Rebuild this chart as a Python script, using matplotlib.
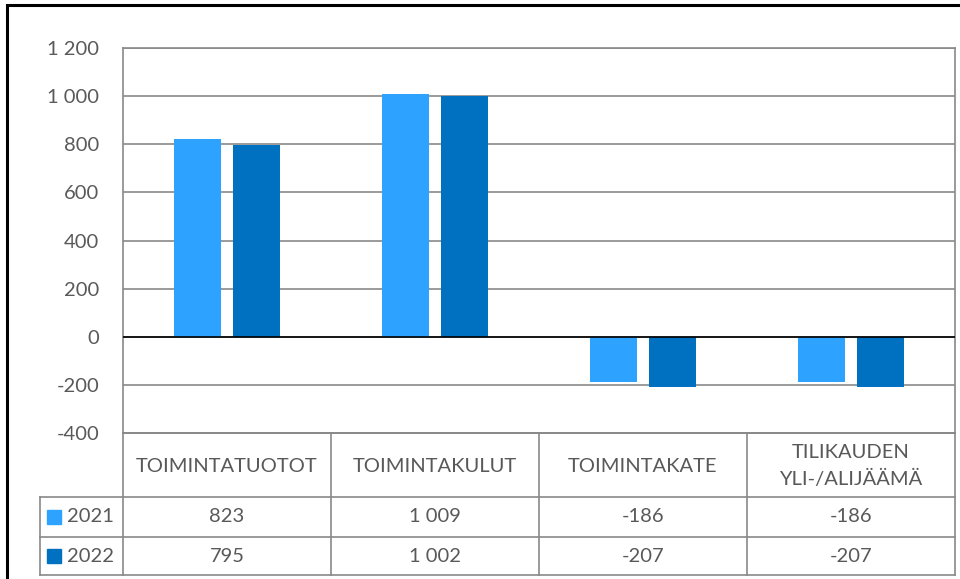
import numpy as np
import matplotlib.pyplot as plt
from matplotlib.patches import Rectangle

categories = ["TOIMINTATUOTOT", "TOIMINTAKULUT", "TOIMINTAKATE", "TILIKAUDEN\nYLI-/ALIJÄÄMÄ"]
series_names = ["2021", "2022"]
values_2021 = [823, 1009, -186, -186]
values_2022 = [795, 1002, -207, -207]
yticks = [-400, -200, 0, 200, 400, 600, 800, 1000, 1200]
colors = ["#2EA2FF", "#0070C0"]

plt.rcParams['font.family'] = ['Lato', 'DejaVu Sans']
txt_col = "#595959"
grid_col = "#898989"
fs = 14.5

def fmt(v):
    # finnish style thousand separator (space)
    return "{:,}".format(v).replace(",", " ")

W, H = 960, 579
fig = plt.figure(figsize=(9.6, 5.79), dpi=100)

# pixel layout
px_left, px_right = 123, 955
px_top, px_zero_bottom = 48, 433
px_table_bottom = 575

ax = fig.add_axes([px_left / W, 1 - px_zero_bottom / H,
                   (px_right - px_left) / W, (px_zero_bottom - px_top) / H])
x = np.arange(len(categories))
bw = 0.226
off = 0.144
ax.bar(x - off, values_2021, bw, color=colors[0], zorder=3)
ax.bar(x + off, values_2022, bw, color=colors[1], zorder=3)
ax.set_xlim(-0.5, len(categories) - 0.5)
ax.set_ylim(-400, 1200)
ax.set_yticks(yticks)
ax.set_yticklabels([fmt(t) for t in yticks], color=txt_col, fontsize=fs)
ax.tick_params(axis='y', length=0, pad=17)
ax.set_xticks([])
for t in yticks:
    ax.axhline(t, color=grid_col, lw=1.2, zorder=1)
ax.axhline(0, color="black", lw=1.2, zorder=4)
for s in ["left", "right", "top", "bottom"]:
    ax.spines[s].set_color(grid_col)
    ax.spines[s].set_linewidth(1.2)

# data table below
tax = fig.add_axes([px_left / W, 1 - px_table_bottom / H,
                    (px_right - px_left) / W, (px_table_bottom - px_zero_bottom) / H])
tax.set_xlim(-0.5, len(categories) - 0.5)
rows = [0, 64, 104, 142]
tax.set_ylim(rows[-1], rows[0])
tax.axis("off")
leg_left = -0.5 - 83 / 208.0
lk = dict(color=grid_col, lw=1.2, clip_on=False)
# horizontal lines
tax.plot([-0.5, 3.5], [rows[0], rows[0]], **lk)
for r in rows[1:]:
    tax.plot([leg_left, 3.5], [r, r], **lk)
# vertical lines
for xv in np.arange(-0.5, 4.0, 1.0):
    tax.plot([xv, xv], [rows[0], rows[-1]], **lk)
tax.plot([leg_left, leg_left], [rows[1], rows[-1]], **lk)

for i, c in enumerate(categories):
    tax.text(i, (rows[0] + rows[1]) / 2 + 1, c, ha="center", va="center",
             color=txt_col, fontsize=fs, linespacing=1.55)
    tax.text(i, (rows[1] + rows[2]) / 2, fmt(values_2021[i]), ha="center",
             va="center", color=txt_col, fontsize=fs)
    tax.text(i, (rows[2] + rows[3]) / 2, fmt(values_2022[i]), ha="center",
             va="center", color=txt_col, fontsize=fs)

for j, name in enumerate(series_names):
    yc = (rows[j + 1] + rows[j + 2]) / 2
    xs = leg_left + 7 / 208.0
    tax.add_patch(Rectangle((xs, yc - 7), 14 / 208.0, 14, color=colors[j], clip_on=False))
    tax.text(xs + 20 / 208.0, yc, name, ha="left", va="center", color=txt_col, fontsize=fs)

# outer black chart border (cropped)
fig.add_artist(Rectangle((7 / W, -0.1), 1.2, 1 - 5 / H + 0.1, transform=fig.transFigure,
                         fill=False, edgecolor="black", lw=2.2))

fig.savefig("out.png", dpi=100)
